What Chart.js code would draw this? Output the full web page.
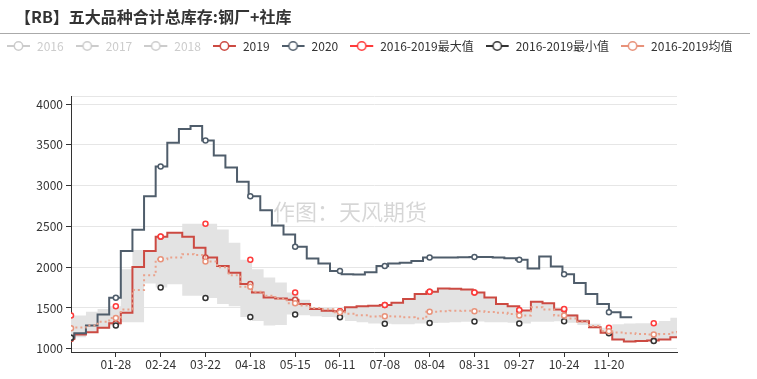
<!DOCTYPE html>
<html>
<head>
<meta charset="utf-8">
<script src="https://cdn.jsdelivr.net/npm/chart.js@4.4.1/dist/chart.umd.min.js"></script>
<style>
    html, body { margin: 0; padding: 0; background: #fff; }
    #wrap { width: 757px; height: 379px; }
</style>
</head>
<body>
<div id="wrap"><canvas id="stockChart" width="757" height="379"></canvas></div>
<script>
const FONT = "'Noto Sans CJK SC', 'Noto Sans', sans-serif";

const chartTitle = '【RB】五大品种合计总库存:钢厂+社库';
const watermarkText = '作图：天风期货';

const seriesNames = ['2016', '2017', '2018', '2019', '2020', '2016-2019最大值', '2016-2019最小值', '2016-2019均值'];

// x axis is the day of the year (0 = 01-01)
const tickDays = [27, 54, 81, 108, 135, 162, 189, 216, 243, 270, 297, 324];
const tickLabels = ['01-28', '02-24', '03-22', '04-18', '05-15', '06-11', '07-08', '08-04', '08-31', '09-27', '10-24', '11-20'];
const markerDays = [0, 27, 54, 81, 108, 135, 162, 189, 216, 243, 270, 297, 324, 351];
const yTickValues = [1000, 1500, 2000, 2500, 3000, 3500, 4000];

// weekly release days
const days2019 = [0, 2, 9, 16, 23, 30, 37, 44, 51, 58,
    67, 74, 81, 88, 95, 102, 109, 116, 123, 130,
    137, 144, 151, 158, 165, 172, 179, 186, 193, 200,
    207, 214, 221, 228, 235, 242, 249, 256, 263, 270,
    277, 284, 291, 298, 305, 312, 319, 326, 333, 340,
    347, 354, 361, 365];
const days2020 = [0, 2, 9, 16, 23, 30, 37, 44, 51, 58,
    65, 72, 79, 86, 93, 100, 107, 114, 121, 128,
    135, 142, 149, 156, 163, 170, 177, 184, 191, 198,
    205, 212, 219, 226, 233, 240, 247, 254, 261, 268,
    275, 282, 289, 296, 303, 310, 317, 324, 331, 338];

const values2019 = [1120, 1175, 1203, 1256, 1313, 1440, 2004, 2199, 2374, 2423,
    2374, 2240, 2118, 2016, 1931, 1793, 1691, 1630, 1615, 1600,
    1549, 1488, 1467, 1460, 1508, 1520, 1528, 1536, 1565, 1610,
    1671, 1699, 1740, 1735, 1728, 1691, 1630, 1549, 1520, 1470,
    1577, 1557, 1480, 1407, 1337, 1264, 1195, 1114, 1090, 1095,
    1100, 1114, 1142, 1142];
const values2020 = [1135, 1191, 1284, 1419, 1626, 2199, 2459, 2870, 3236, 3528,
    3695, 3732, 3553, 3370, 3224, 3049, 2870, 2699, 2512, 2402,
    2252, 2106, 2045, 1955, 1915, 1912, 1939, 2016, 2045, 2055,
    2077, 2118, 2118, 2120, 2122, 2126, 2126, 2120, 2110, 2090,
    1984, 2130, 2008, 1915, 1805, 1671, 1549, 1447, 1386, 1386];
const maxValues = [1407, 1407, 1455, 1488, 1520, 1976, 2211, 2211, 2378, 2423,
    2532, 2532, 2532, 2463, 2300, 2090, 1976, 1874, 1813, 1691,
    1600, 1508, 1500, 1460, 1508, 1520, 1528, 1536, 1565, 1610,
    1671, 1699, 1740, 1735, 1728, 1691, 1630, 1549, 1520, 1476,
    1577, 1557, 1488, 1427, 1366, 1305, 1256, 1300, 1310, 1313,
    1313, 1340, 1380, 1394];
const minValues = [1135, 1142, 1195, 1244, 1284, 1325, 1325, 1800, 1750, 1790,
    1650, 1650, 1622, 1549, 1520, 1390, 1340, 1285, 1290, 1420,
    1410, 1400, 1390, 1386, 1340, 1325, 1310, 1305, 1300, 1300,
    1310, 1317, 1320, 1325, 1330, 1333, 1325, 1325, 1320, 1309,
    1330, 1330, 1337, 1320, 1290, 1250, 1191, 1114, 1090, 1095,
    1094, 1110, 1142, 1142];
const avgValues = [1252, 1260, 1284, 1330, 1378, 1480, 1720, 1900, 2098, 2120,
    2160, 2150, 2069, 2000, 1900, 1760, 1700, 1650, 1610, 1557,
    1530, 1500, 1485, 1447, 1430, 1410, 1395, 1398, 1395, 1385,
    1370, 1455, 1460, 1465, 1467, 1459, 1450, 1440, 1425, 1407,
    1510, 1480, 1407, 1370, 1330, 1280, 1216, 1200, 1190, 1180,
    1175, 1180, 1200, 1230];

const COLOR_2019 = '#cc4a42';
const COLOR_2020 = '#4f5d6b';
const COLOR_MAX = '#ff3b3b';
const COLOR_MIN = '#333333';
const COLOR_AVG = '#e8927a';
const COLOR_OFF = '#cccccc';

/**
 * Turn weekly points into {x, y} points, and add a marker point on each
 * marker day carrying the value that is in force on that day.
 */
function buildSeries(days, values) {
    const points = days.map(function (d, i) { return { x: d, y: values[i], mark: false }; });
    markerDays.forEach(function (m) {
        if (m < days[0] || m > days[days.length - 1]) return;
        let k = 0;
        while (k + 1 < days.length && days[k + 1] <= m) k++;
        if (days[k] === m) {
            points[k].mark = true;
        } else {
            points.push({ x: m, y: values[k], mark: true });
        }
    });
    points.sort(function (a, b) { return a.x - b.x; });
    return points;
}

function markRadius(ctx) {
    return ctx.raw && ctx.raw.mark ? 2.5 : 0;
}

function legendIcon(color) {
    const c = document.createElement('canvas');
    c.width = 24;
    c.height = 14;
    const g = c.getContext('2d');
    g.strokeStyle = color;
    g.lineWidth = 2;
    g.beginPath();
    g.moveTo(0, 7);
    g.lineTo(23, 7);
    g.stroke();
    g.beginPath();
    g.arc(11.5, 7, 4.2, 0, Math.PI * 2);
    g.fillStyle = '#fff';
    g.fill();
    g.lineWidth = 1.5;
    g.stroke();
    return c;
}

function lineSet(label, data, color, order, extra) {
    return Object.assign({
        label: label,
        data: data,
        xAxisID: 'x',
        yAxisID: 'y',
        stepped: true,
        fill: false,
        borderColor: color,
        borderWidth: 2,
        pointRadius: markRadius,
        pointHoverRadius: 0,
        pointBorderColor: color,
        pointBackgroundColor: '#fff',
        pointBorderWidth: 1.5,
        legendColor: color,
        order: order
    }, extra || {});
}

const pagePlugin = {
    id: 'pageDecor',
    beforeDatasetsDraw: function (chart) {
        const ctx = chart.ctx;
        ctx.save();
        ctx.font = '22px ' + FONT;
        ctx.fillStyle = 'rgba(0, 0, 0, 0.16)';
        ctx.textAlign = 'center';
        ctx.textBaseline = 'middle';
        ctx.fillText(watermarkText, 350, 212);
        ctx.restore();
    },
    afterDraw: function (chart) {
        const ctx = chart.ctx;
        ctx.save();
        ctx.font = 'bold 16px ' + FONT;
        ctx.fillStyle = '#333';
        ctx.textAlign = 'left';
        ctx.textBaseline = 'middle';
        ctx.fillText(chartTitle, 15, 16.5);
        ctx.strokeStyle = '#aaa';
        ctx.lineWidth = 1;
        ctx.beginPath();
        ctx.moveTo(0, 33.5);
        ctx.lineTo(750, 33.5);
        ctx.stroke();
        ctx.restore();
    }
};

const datasets = [
    lineSet(seriesNames[0], [], COLOR_OFF, 9, { hidden: true }),
    lineSet(seriesNames[1], [], COLOR_OFF, 8, { hidden: true }),
    lineSet(seriesNames[2], [], COLOR_OFF, 7, { hidden: true }),
    lineSet(seriesNames[3], buildSeries(days2019, values2019), COLOR_2019, 5),
    lineSet(seriesNames[4], buildSeries(days2020, values2020), COLOR_2020, 4),
    lineSet(seriesNames[5], buildSeries(days2019, maxValues), COLOR_MAX, 3, {
        borderColor: 'rgba(0,0,0,0)', borderWidth: 0, fill: '+1', backgroundColor: '#e3e3e3'
    }),
    lineSet(seriesNames[6], buildSeries(days2019, minValues), COLOR_MIN, 2, {
        borderColor: 'rgba(0,0,0,0)', borderWidth: 0
    }),
    lineSet(seriesNames[7], buildSeries(days2019, avgValues), COLOR_AVG, 1, {
        borderColor: '#eaa28c', borderDash: [2, 3]
    })
];

new Chart(document.getElementById('stockChart'), {
    type: 'line',
    data: { datasets: datasets },
    options: {
        responsive: false,
        animation: false,
        events: [],
        layout: { padding: { top: 28, left: -5, right: -10, bottom: 0 } },
        plugins: {
            title: { display: false },
            tooltip: { enabled: false },
            filler: { drawTime: 'beforeDatasetsDraw' },
            legend: {
                position: 'top',
                align: 'start',
                onClick: function () {},
                labels: {
                    usePointStyle: true,
                    pointStyleWidth: 24,
                    padding: 12,
                    color: '#333',
                    font: { family: FONT, size: 12 },
                    generateLabels: function (chart) {
                        return chart.data.datasets.map(function (ds, i) {
                            const off = !!ds.hidden;
                            return {
                                text: ds.label,
                                datasetIndex: i,
                                hidden: false,
                                fontColor: off ? COLOR_OFF : '#333',
                                pointStyle: legendIcon(off ? COLOR_OFF : (i === 7 ? COLOR_AVG : ds.legendColor)),
                                lineWidth: 0,
                                strokeStyle: 'rgba(0,0,0,0)',
                                fillStyle: 'rgba(0,0,0,0)'
                            };
                        });
                    }
                }
            }
        },
        scales: {
            x: {
                type: 'linear',
                position: 'bottom',
                min: 0,
                max: 365,
                afterBuildTicks: function (scale) {
                    scale.ticks = tickDays.map(function (v) { return { value: v }; });
                },
                afterFit: function (scale) { scale.height = 27; },
                grid: { drawOnChartArea: false, tickLength: 5, tickColor: '#333' },
                border: { color: '#333', width: 1 },
                ticks: {
                    padding: 0,
                    color: '#333',
                    maxRotation: 0,
                    autoSkip: false,
                    font: { family: FONT, size: 12 },
                    callback: function (value) {
                        const i = tickDays.indexOf(value);
                        return i >= 0 ? tickLabels[i] : '';
                    }
                }
            },
            xTop: {
                type: 'linear',
                position: 'top',
                afterFit: function (scale) { scale.height = 34; },
                grid: { display: false },
                border: { display: false },
                ticks: { display: false }
            },
            y: {
                type: 'linear',
                position: 'left',
                min: 960,
                max: 4100,
                afterBuildTicks: function (scale) {
                    scale.ticks = [960].concat(yTickValues, [4100]).map(function (v) { return { value: v }; });
                },
                afterFit: function (scale) { scale.width = 76; },
                grid: {
                    color: function (ctx) { return ctx.tick && ctx.tick.value === 960 ? 'rgba(0,0,0,0)' : '#e6e6e6'; },
                    tickColor: function (ctx) {
                        return ctx.tick && yTickValues.indexOf(ctx.tick.value) >= 0 ? '#333' : 'rgba(0,0,0,0)';
                    },
                    tickLength: 5
                },
                border: { color: '#333', width: 1 },
                ticks: {
                    color: '#333',
                    padding: 3,
                    font: { family: FONT, size: 12 },
                    callback: function (value) {
                        return yTickValues.indexOf(value) >= 0 ? String(value) : '';
                    }
                }
            },
            yRight: {
                type: 'linear',
                position: 'right',
                afterFit: function (scale) { scale.width = 90; },
                grid: { display: false },
                border: { display: false },
                ticks: { display: false }
            }
        }
    },
    plugins: [pagePlugin]
});
</script>
</body>
</html>
